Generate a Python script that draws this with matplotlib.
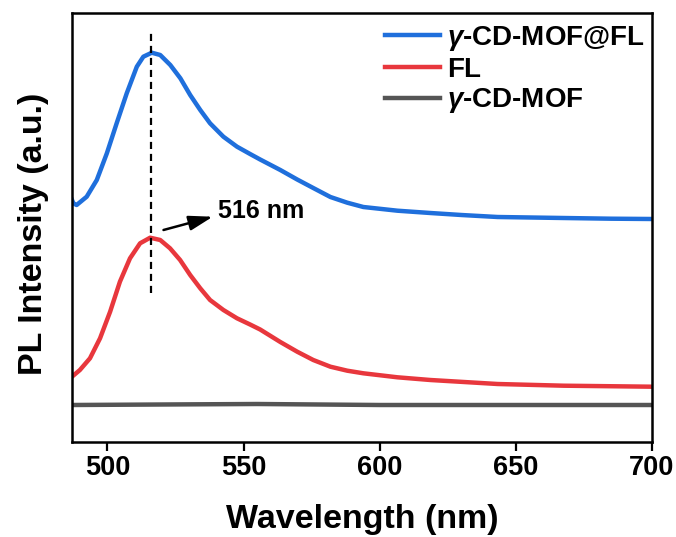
import matplotlib
matplotlib.use("Agg")
import matplotlib.pyplot as plt

plt.rcParams['font.family'] = ['Liberation Sans', 'DejaVu Sans']
plt.rcParams['font.weight'] = 'bold'
plt.rcParams['mathtext.fontset'] = 'custom'
plt.rcParams['mathtext.it'] = 'Liberation Sans:italic:bold'
plt.rcParams['mathtext.rm'] = 'Liberation Sans:bold'
plt.rcParams['mathtext.bf'] = 'Liberation Sans:bold'

# gamma-CD-MOF@FL
wl_blue = [487.0, 487.5, 488.7, 492.4, 496.1, 499.8, 503.4, 507.1, 510.8, 513.2, 516.3,
           519.4, 523.1, 526.8, 530.4, 534.1, 537.7, 542.6, 547.6, 552.4, 556.1,
           563.5, 569.7, 575.6, 581.9, 588.1, 594.0, 606.5, 618.6, 630.0, 643.3,
           667.5, 685.0, 700.0]
int_blue = [242, 238.7, 237, 245.3, 262, 288.7, 318.7, 348.7, 375.3, 385.3, 389.3,
            387, 377, 363.7, 347, 332, 318.7, 305.3, 295.3, 288, 282.5,
            272, 262.5, 254, 245, 239.3, 235, 231.3, 229, 227, 225,
            224, 223.3, 223]

# FL
wl_red = [487.0, 489.9, 493.6, 497.3, 501.0, 504.6, 508.3, 512.0, 515.7, 519.4, 523.0,
          526.7, 530.4, 534.1, 537.7, 542.6, 547.6, 552.4, 556.1, 563.5, 569.7,
          575.6, 581.9, 588.1, 594.0, 606.5, 618.6, 643.3, 667.5, 700.0]
int_red = [65.3, 72, 83.7, 103.7, 130.3, 160.3, 183.7, 198.7, 204.3, 202, 193.7,
           182, 167, 153.7, 142, 132, 123.7, 117.5, 112.5, 100, 90.3,
           82, 75.3, 71.3, 68.7, 64.7, 62, 58, 56.3, 55.3]

# gamma-CD-MOF
wl_gray = [487.0, 520.0, 555.0, 600.0, 650.0, 700.0]
int_gray = [37, 37.5, 38, 37, 37, 37]

peak_wl = 516
labels = [r'$\gamma$-CD-MOF@FL', 'FL', r'$\gamma$-CD-MOF']
colors = ['#1f6fdc', '#e8373d', '#555555']

fig = plt.figure(figsize=(6.76, 5.37), dpi=100)
ax = fig.add_axes([72/676, 1-442/537, (652-72)/676, (442-13)/537])

lw = 3.2
ax.plot(wl_blue, int_blue, color=colors[0], lw=lw, label=labels[0])
ax.plot(wl_red, int_red, color=colors[1], lw=lw, label=labels[1])
ax.plot(wl_gray, int_gray, color=colors[2], lw=lw, label=labels[2])

ax.plot([peak_wl, peak_wl], [149, 410], color='black', lw=1.6, ls=(0, (3.2, 2.2)))
ax.annotate('', xy=(538.7, 225.3), xytext=(520.6, 212),
            arrowprops=dict(arrowstyle='-|>,head_length=1.45,head_width=0.45',
                            color='black', lw=1.8, mutation_scale=10,
                            shrinkA=0, shrinkB=0))
ax.text(540.8, 224, '516 nm', fontsize=18, fontweight='bold', va='baseline', ha='left')

ax.set_xlim(487, 700)
ax.set_ylim(0, 429)
ax.set_xticks([500, 550, 600, 650, 700])
ax.set_yticks([])
ax.tick_params(axis='x', direction='out', length=6.5, width=1.6, labelsize=19.5, pad=3)
for s in ax.spines.values():
    s.set_linewidth(1.8)

ax.set_xlabel('Wavelength (nm)', fontsize=24.5, fontweight='bold')
ax.xaxis.set_label_coords(0.5, -0.145)
ax.set_ylabel('PL Intensity (a.u.)', fontsize=24.5, fontweight='bold')
ax.yaxis.set_label_coords(-0.04, 0.486)

leg = ax.legend(loc='upper left', bbox_to_anchor=(385/676, 1-24/537),
                bbox_transform=fig.transFigure, frameon=False, fontsize=20,
                handlelength=1.98, handletextpad=0.25, labelspacing=0.13,
                borderpad=0, borderaxespad=0)
for line in leg.get_lines():
    line.set_linewidth(3.2)

fig.savefig('out.png', dpi=100)
